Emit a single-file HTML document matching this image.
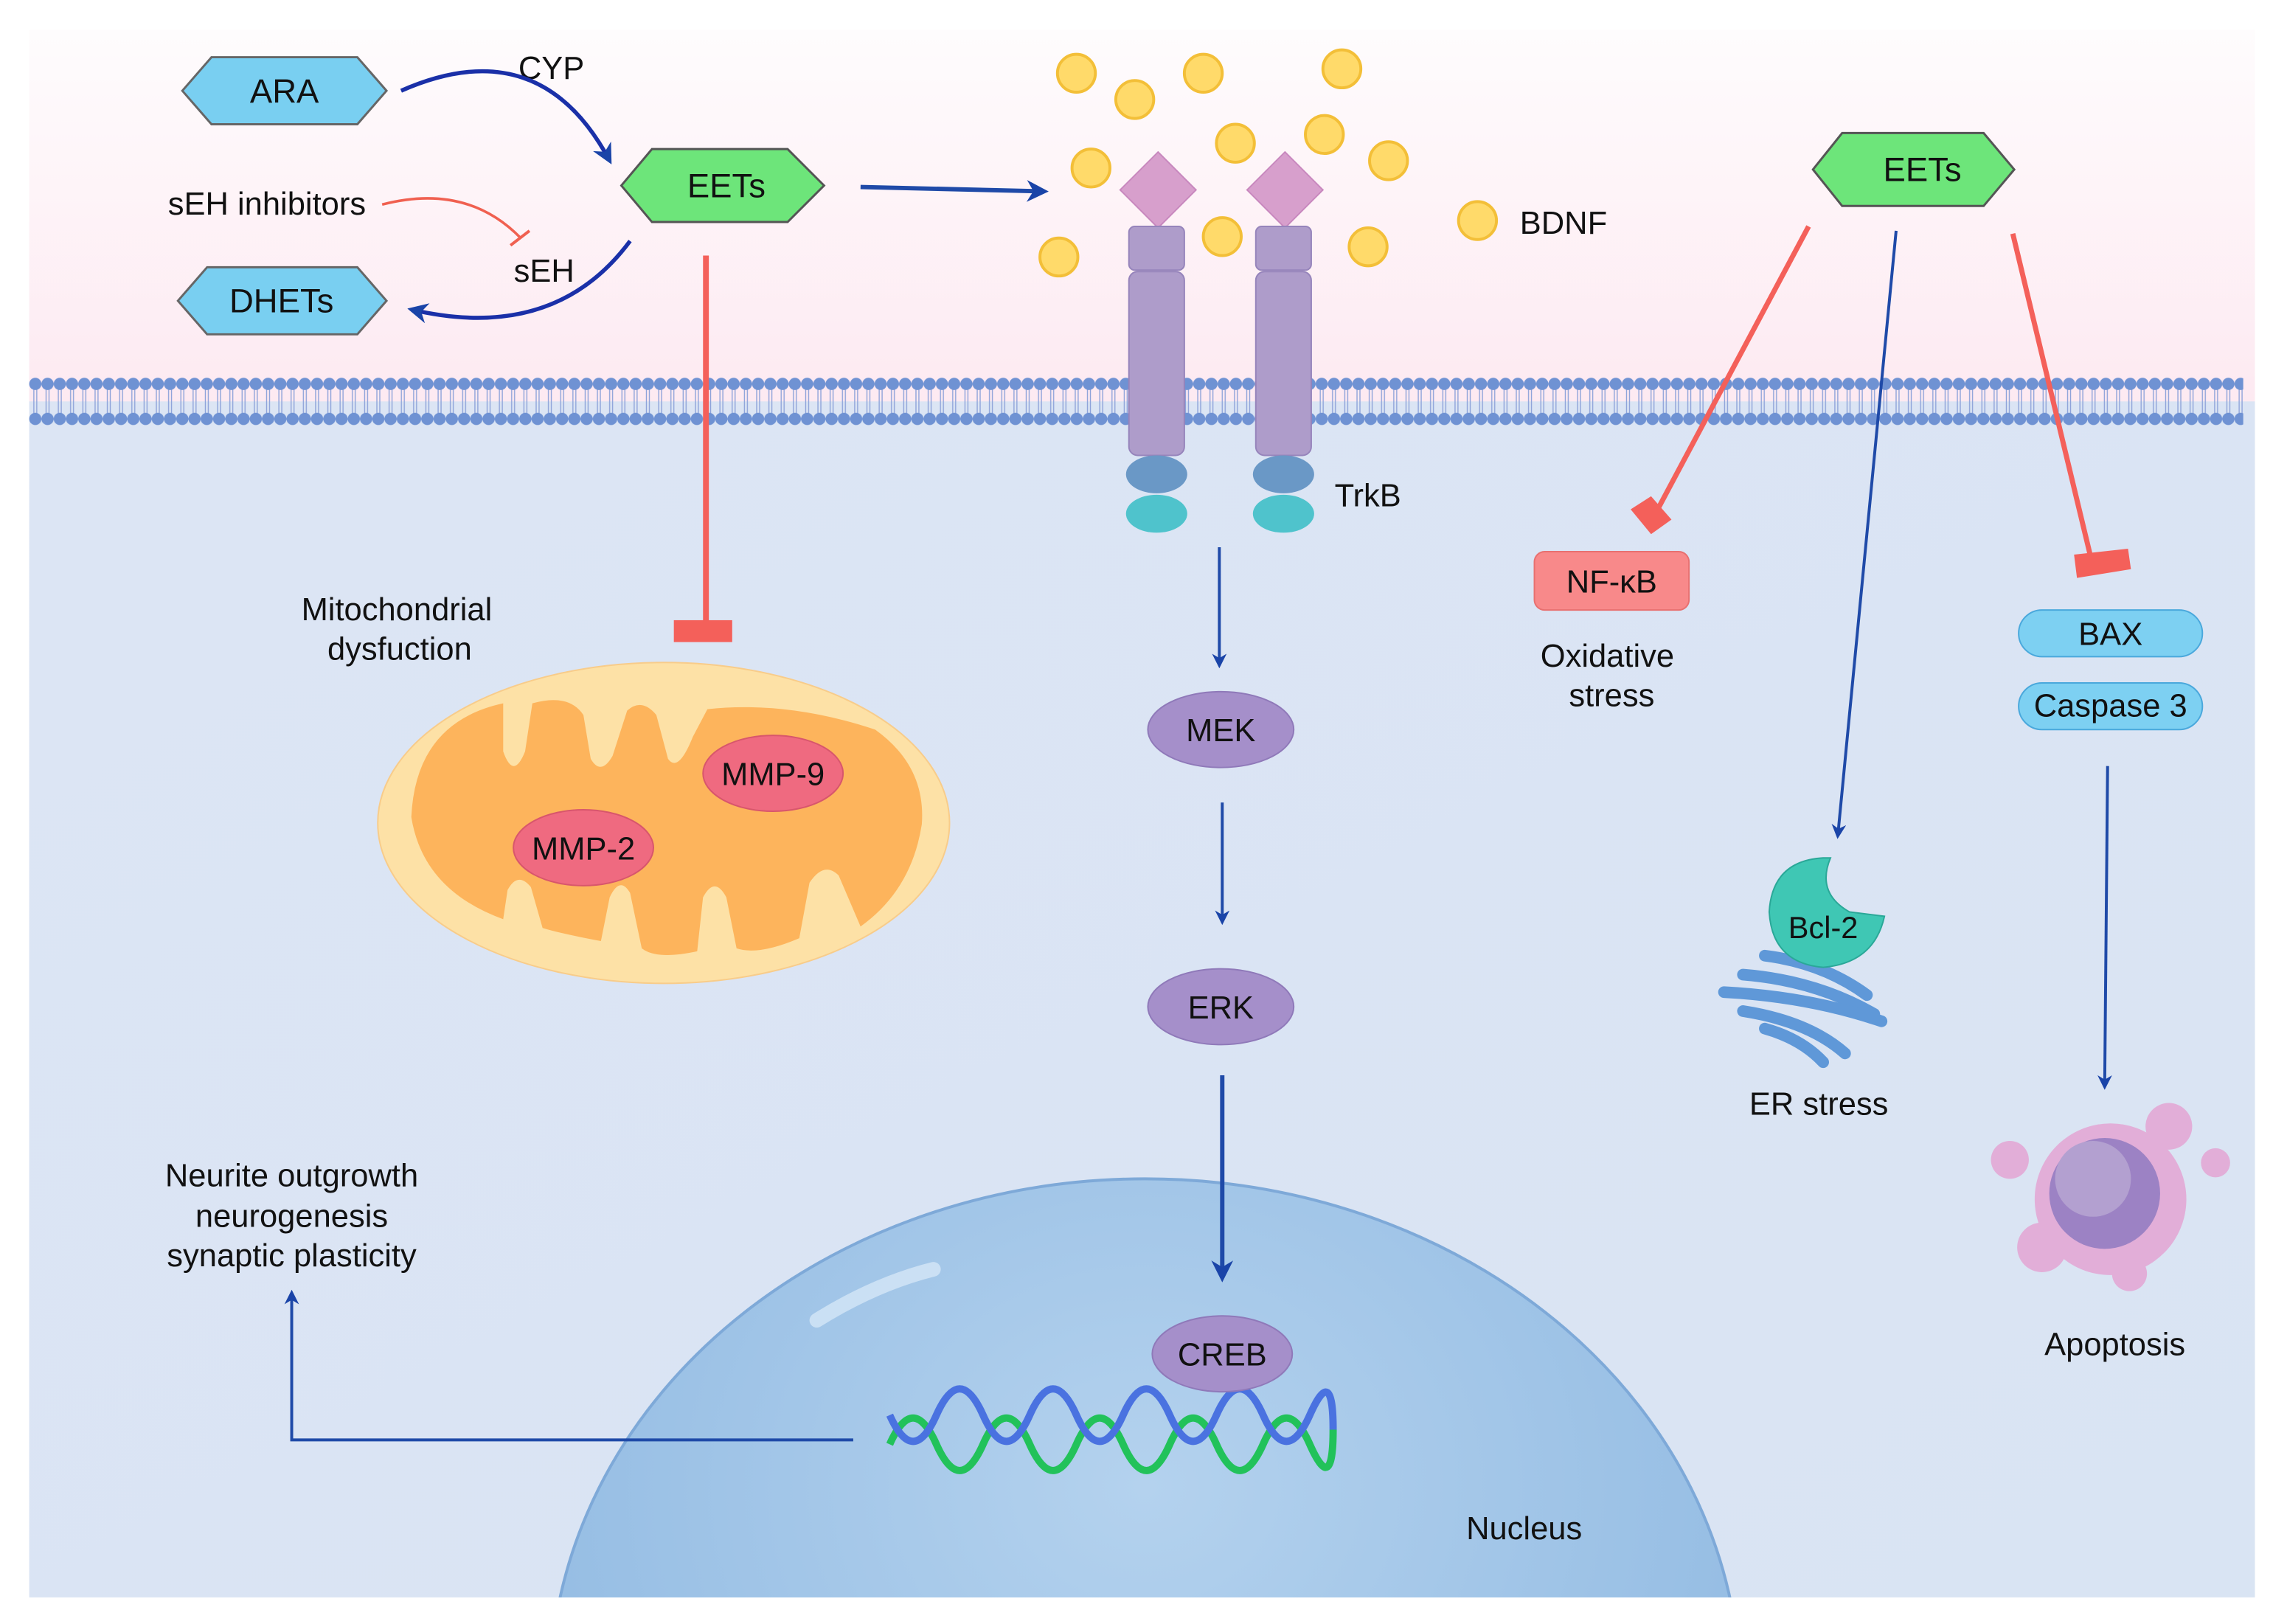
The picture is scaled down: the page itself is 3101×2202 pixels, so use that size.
<!DOCTYPE html>
<html><head><meta charset="utf-8"><style>
html,body{margin:0;padding:0;background:#fff;width:3101px;height:2202px;overflow:hidden;position:relative}
svg{display:block;position:absolute;left:0;top:0}
text{font-family:"Liberation Sans",sans-serif;fill:#111}
</style></head><body>
<svg width="3101" height="2202" viewBox="0 0 1568 1113" xmlns="http://www.w3.org/2000/svg" overflow="hidden">
<defs>
<linearGradient id="top" x1="0" y1="0" x2="0" y2="1">
<stop offset="0" stop-color="#fefcfd"/><stop offset="1" stop-color="#fde9f1"/></linearGradient>
<radialGradient id="nuc" cx="0.5" cy="0.3" r="0.7">
<stop offset="0" stop-color="#b4d2ee"/><stop offset="1" stop-color="#8bb6e0"/></radialGradient>
<linearGradient id="cell" x1="0" y1="0" x2="1" y2="1">
<stop offset="0" stop-color="#dce5f4"/><stop offset="1" stop-color="#d9e4f3"/></linearGradient>
<pattern id="heads" x="20" y="0" width="8.4" height="1113" patternUnits="userSpaceOnUse">
<line x1="3.2" y1="264" x2="3.2" y2="286" stroke="#8da2d9" stroke-width="0.7"/>
<line x1="5.2" y1="264" x2="5.2" y2="286" stroke="#8da2d9" stroke-width="0.7"/>
<circle cx="4.2" cy="263" r="4.2" fill="#6f92d3"/>
<circle cx="4.2" cy="287" r="4.2" fill="#6f92d3"/>
</pattern>
<marker id="ab" viewBox="0 0 10 10" refX="8" refY="5" markerWidth="5" markerHeight="5" orient="auto">
<path d="M0,0 L10,5 L0,10 L3,5z" fill="#1a44a8"/></marker>
<clipPath id="cp"><rect x="20" y="20" width="1526" height="1075"/></clipPath>
</defs>
<rect width="1568" height="1113" fill="#fff"/>
<rect x="20" y="20" width="1526" height="260" fill="url(#top)"/>
<rect x="20" y="275" width="1526" height="820" fill="url(#cell)"/>
<g clip-path="url(#cp)">
<ellipse cx="785" cy="1160" rx="408" ry="352" fill="url(#nuc)" stroke="#7ea9d8" stroke-width="2"/>
<path d="M560 905 Q600 880 640 870" stroke="#d4e6f6" stroke-width="10" fill="none" stroke-linecap="round" opacity="0.8"/>
</g>
<rect x="20" y="258" width="1518" height="34" fill="url(#heads)"/>
<polygon points="125,62 145,39 245,39 265,62 245,85 145,85" fill="#79cff1" stroke="#666" stroke-width="1.5"/>
<text x="195" y="70" font-size="23" text-anchor="middle">ARA</text>
<polygon points="122,206 142,183 245,183 265,206 245,229 142,229" fill="#79cff1" stroke="#666" stroke-width="1.5"/>
<text x="193" y="214" font-size="23" text-anchor="middle">DHETs</text>
<polygon points="426,127 447,102 540,102 565,127 540,152 447,152" fill="#6de57a" stroke="#555" stroke-width="1.5"/>
<text x="498" y="135" font-size="23" text-anchor="middle">EETs</text>
<polygon points="1243,116 1263,91 1360,91 1381,116 1360,141 1263,141" fill="#6de57a" stroke="#555" stroke-width="1.5"/>
<text x="1318" y="124" font-size="23" text-anchor="middle">EETs</text>
<text x="378" y="54" font-size="22" text-anchor="middle">CYP</text>
<text x="183" y="147" font-size="22" text-anchor="middle">sEH inhibitors</text>
<text x="373" y="193" font-size="22" text-anchor="middle">sEH</text>
<path d="M275 62 Q370 20 418 110" stroke="#1a30a8" stroke-width="2.8" fill="none" marker-end="url(#ab)"/>
<path d="M262 140 Q320 125 357 163" stroke="#f06050" stroke-width="1.8" fill="none"/>
<line x1="350" y1="168" x2="363" y2="158" stroke="#f06050" stroke-width="2"/>
<path d="M432 165 Q380 235 282 212" stroke="#1a30a8" stroke-width="2.8" fill="none" marker-end="url(#ab)"/>
<line x1="590" y1="128" x2="716" y2="131" stroke="#1f4aa8" stroke-width="3" marker-end="url(#ab)"/>
<line x1="484" y1="175" x2="484" y2="428" stroke="#f4605a" stroke-width="4"/>
<rect x="462" y="425" width="40" height="15" fill="#f4605a"/>
<g fill="#ffda6a" stroke="#f3bf38" stroke-width="2">
<circle cx="738" cy="50" r="13"/><circle cx="778" cy="68" r="13"/><circle cx="825" cy="50" r="13"/>
<circle cx="920" cy="47" r="13"/><circle cx="748" cy="115" r="13"/><circle cx="847" cy="98" r="13"/>
<circle cx="908" cy="92" r="13"/><circle cx="952" cy="110" r="13"/><circle cx="838" cy="162" r="13"/>
<circle cx="726" cy="176" r="13"/><circle cx="938" cy="169" r="13"/><circle cx="1013" cy="151" r="13"/>
</g>
<text x="1042" y="160" font-size="22">BDNF</text>
<g>
<polygon points="794,104 820,130 794,156 768,130" fill="#d79fcc" stroke="#c888be"/>
<polygon points="881,104 907,130 881,156 855,130" fill="#d79fcc" stroke="#c888be"/>
<rect x="774" y="155" width="38" height="30" rx="4" fill="#ae9cca" stroke="#9684bb"/>
<rect x="861" y="155" width="38" height="30" rx="4" fill="#ae9cca" stroke="#9684bb"/>
<rect x="774" y="186" width="38" height="126" rx="6" fill="#ae9cca" stroke="#9684bb"/>
<rect x="861" y="186" width="38" height="126" rx="6" fill="#ae9cca" stroke="#9684bb"/>
<ellipse cx="793" cy="325" rx="21" ry="13" fill="#6a98c6"/>
<ellipse cx="880" cy="325" rx="21" ry="13" fill="#6a98c6"/>
<ellipse cx="793" cy="352" rx="21" ry="13" fill="#4fc3cc"/>
<ellipse cx="880" cy="352" rx="21" ry="13" fill="#4fc3cc"/>
</g>
<text x="915" y="347" font-size="22">TrkB</text>
<line x1="836" y1="375" x2="836" y2="456" stroke="#1f4aa8" stroke-width="2" marker-end="url(#ab)"/>
<ellipse cx="837" cy="500" rx="50" ry="26" fill="#a58fca" stroke="#8f79b9"/>
<text x="837" y="508" font-size="22" text-anchor="middle">MEK</text>
<line x1="838" y1="550" x2="838" y2="632" stroke="#1f4aa8" stroke-width="2" marker-end="url(#ab)"/>
<ellipse cx="837" cy="690" rx="50" ry="26" fill="#a58fca" stroke="#8f79b9"/>
<text x="837" y="698" font-size="22" text-anchor="middle">ERK</text>
<line x1="838" y1="737" x2="838" y2="876" stroke="#1f4aa8" stroke-width="3" marker-end="url(#ab)"/>
<path d="M610 990 q16 -36 32 0 t32 0 t32 0 t32 0 t32 0 t32 0 t32 0 t32 0 t32 0 t16 -10" stroke="#22c25a" stroke-width="5" fill="none"/>
<path d="M610 970 q16 36 32 0 t32 0 t32 0 t32 0 t32 0 t32 0 t32 0 t32 0 t32 0 t16 10" stroke="#4a72e0" stroke-width="5" fill="none"/>
<ellipse cx="838" cy="928" rx="48" ry="26" fill="#a58fca" stroke="#8f79b9"/>
<text x="838" y="936" font-size="22" text-anchor="middle">CREB</text>
<text x="1045" y="1055" font-size="22" text-anchor="middle">Nucleus</text>
<polyline points="585,987 200,987 200,886" stroke="#1f4aa8" stroke-width="2" fill="none" marker-end="url(#ab)"/>
<g font-size="22" text-anchor="middle">
<text x="200" y="813">Neurite outgrowth</text>
<text x="200" y="841">neurogenesis</text>
<text x="200" y="868">synaptic plasticity</text>
<text x="272" y="425">Mitochondrial</text>
<text x="274" y="452">dysfuction</text>
</g>
<ellipse cx="455" cy="564" rx="196" ry="110" fill="#fde1a6" stroke="#f8cc8a"/>
<path d="M282 560 Q285 495 345 482 L345 515 Q352 535 360 515 L365 482 Q390 475 400 490 L405 520 Q412 532 420 518 L430 487 Q440 478 450 490 L458 520 Q465 530 475 505 L485 486 Q540 480 600 500 Q635 525 632 565 Q625 610 590 635 L575 600 Q565 590 555 605 L548 643 Q520 655 505 650 L498 615 Q490 600 482 615 L478 652 Q450 658 440 650 L432 612 Q425 600 418 615 L412 645 Q385 640 372 636 L364 608 Q355 597 348 610 L345 630 Q290 610 282 560z" fill="#fdb45c"/>
<ellipse cx="530" cy="530" rx="48" ry="26" fill="#ef6a80" stroke="#d8566c"/>
<text x="530" y="538" font-size="22" text-anchor="middle">MMP-9</text>
<ellipse cx="400" cy="581" rx="48" ry="26" fill="#ef6a80" stroke="#d8566c"/>
<text x="400" y="589" font-size="22" text-anchor="middle">MMP-2</text>
<line x1="1240" y1="155" x2="1136" y2="350" stroke="#f4605a" stroke-width="3.5"/>
<polygon points="1118,349 1132,340 1146,356 1132,366" fill="#f4605a"/>
<rect x="1052" y="378" width="106" height="40" rx="7" fill="#f8898a" stroke="#e87070"/>
<text x="1105" y="406" font-size="22" text-anchor="middle">NF-κB</text>
<text x="1102" y="457" font-size="22" text-anchor="middle">Oxidative</text>
<text x="1105" y="484" font-size="22" text-anchor="middle">stress</text>
<line x1="1300" y1="158" x2="1260" y2="573" stroke="#1f4aa8" stroke-width="2" marker-end="url(#ab)"/>
<line x1="1380" y1="160" x2="1433" y2="380" stroke="#f4605a" stroke-width="3.5"/>
<polygon points="1422,380 1459,376 1461,390 1424,396" fill="#f4605a"/>
<rect x="1384" y="418" width="126" height="32" rx="16" fill="#7dd0f2" stroke="#4aa8dc"/>
<text x="1447" y="442" font-size="22" text-anchor="middle">BAX</text>
<rect x="1384" y="468" width="126" height="32" rx="16" fill="#7dd0f2" stroke="#4aa8dc"/>
<text x="1447" y="491" font-size="22" text-anchor="middle">Caspase 3</text>
<line x1="1445" y1="525" x2="1443" y2="745" stroke="#1f4aa8" stroke-width="2" marker-end="url(#ab)"/>
<g stroke="#5f98d8" stroke-width="8" fill="none" stroke-linecap="round">
<path d="M1210 655 Q1250 660 1280 682"/>
<path d="M1195 668 Q1245 672 1285 695"/>
<path d="M1182 680 Q1240 683 1290 700"/>
<path d="M1195 693 Q1240 700 1265 722"/>
<path d="M1210 705 Q1235 712 1250 728"/>
</g>
<path d="M1250 588 Q1215 590 1213 625 Q1215 660 1250 663 Q1285 660 1292 628 L1268 625 Q1245 612 1255 588z" fill="#3fc7b4" stroke="#2aa898"/>
<text x="1250" y="643" font-size="21" text-anchor="middle">Bcl-2</text>
<text x="1247" y="764" font-size="22" text-anchor="middle">ER stress</text>
<circle cx="1378" cy="795" r="13" fill="#e2aed8"/>
<circle cx="1519" cy="797" r="10" fill="#e2aed8"/>
<circle cx="1487" cy="772" r="16" fill="#e2aed8"/>
<circle cx="1400" cy="855" r="17" fill="#e2aed8"/>
<circle cx="1460" cy="873" r="12" fill="#e2aed8"/>
<circle cx="1447" cy="822" r="52" fill="#e2aed8"/>
<circle cx="1443" cy="818" r="38" fill="#9c82c4"/>
<circle cx="1435" cy="808" r="26" fill="#b3a0d0"/>
<text x="1450" y="929" font-size="22" text-anchor="middle">Apoptosis</text>
</svg>
</body></html>
